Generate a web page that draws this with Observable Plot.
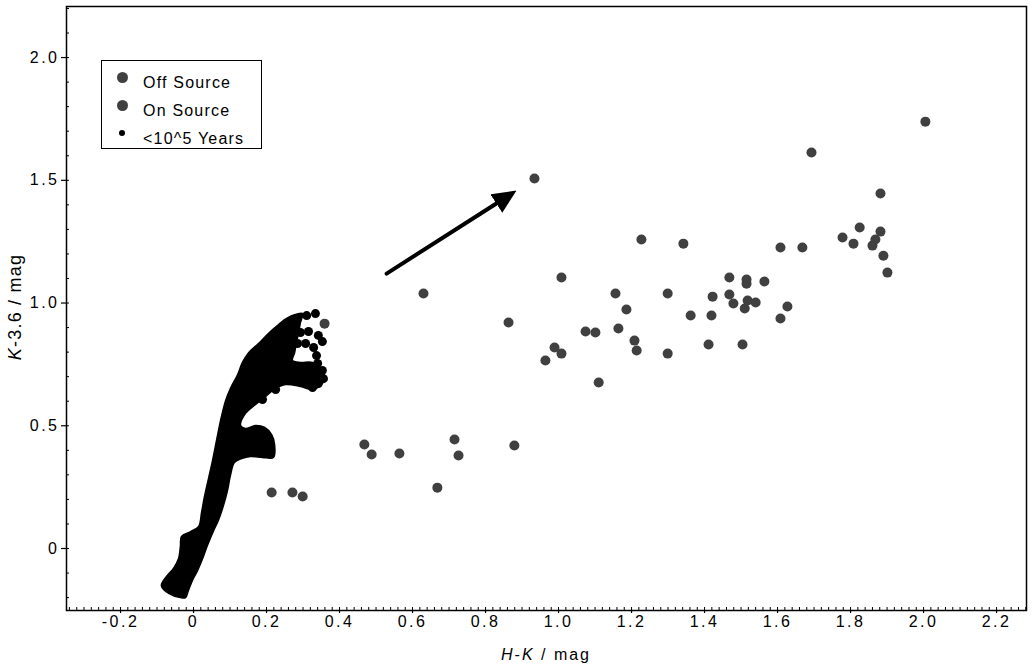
<!DOCTYPE html>
<html><head><meta charset="utf-8">
<script src="https://cdn.jsdelivr.net/npm/d3@7"></script>
<script src="https://cdn.jsdelivr.net/npm/@observablehq/plot@0.6"></script>
<style>
body{margin:0;background:#fff;font-family:"Liberation Sans",Arial,Helvetica,sans-serif;}
#wrap{position:relative;width:1033px;height:669px;overflow:hidden;}
#wrap svg{position:absolute;left:0;top:0;}
.ov{position:absolute;color:#000;white-space:nowrap;}
#legend{position:absolute;left:101px;top:60px;width:161px;height:89px;border:1.5px solid #000;box-sizing:border-box;background:#fff;}
.sw{position:absolute;border-radius:50%;}
.lt{position:absolute;font-size:16px;line-height:18px;letter-spacing:1.2px;white-space:nowrap;}
</style></head>
<body><div id="wrap"></div>
<script>
// ---- data ----
const xDomain = [-0.348, 2.282];
const yDomain = [-0.2525, 2.208];
const xMajor = [-0.2, 0, 0.2, 0.4, 0.6, 0.8, 1.0, 1.2, 1.4, 1.6, 1.8, 2.0, 2.2];
const yMajor = [0, 0.5, 1.0, 1.5, 2.0];

// observed sources (H-K, K-3.6)
const observedHK = [0.934,1.227,1.342,1.008,0.630,1.156,1.299,1.186,1.362,0.863,
  1.074,1.101,1.164,1.208,0.989,1.008,1.214,1.299,0.964,1.110,
  0.715,0.879,0.468,0.488,0.564,0.726,0.668,0.214,0.271,0.299,
  0.359,2.005,1.693,1.882,1.825,1.882,1.778,1.808,1.868,1.860,
  1.890,1.901,1.608,1.668,1.468,1.515,1.515,1.564,1.422,1.468,
  1.479,1.518,1.510,1.540,1.419,1.627,1.608,1.411,1.504];
const observedK36 = [1.507,1.259,1.242,1.104,1.039,1.039,1.039,0.974,0.949,0.921,
  0.884,0.880,0.896,0.847,0.819,0.794,0.807,0.794,0.766,0.676,
  0.444,0.420,0.424,0.383,0.387,0.379,0.248,0.228,0.228,0.212,
  0.916,1.739,1.613,1.446,1.308,1.291,1.267,1.242,1.259,1.234,
  1.193,1.124,1.226,1.226,1.104,1.096,1.079,1.088,1.026,1.035,
  0.998,1.010,0.978,1.002,0.949,0.986,0.937,0.831,0.831];

// dense model (<10^5 years) region: outline of the packed points
const modelOutlineHK = [-0.036,-0.068,-0.088,-0.074,-0.055,-0.041,-0.036,-0.033,-0.008,0.014,
  0.022,0.030,0.041,0.052,0.063,0.074,0.088,0.101,0.121,0.134,
  0.151,0.178,0.205,0.233,0.255,0.279,0.299,0.293,0.288,0.282,
  0.277,0.271,0.293,0.326,0.348,0.359,0.348,0.326,0.293,0.252,
  0.225,0.197,0.170,0.142,0.129,0.142,0.170,0.195,0.214,0.222,
  0.219,0.189,0.156,0.132,0.112,0.101,0.093,0.082,0.068,0.055,
  0.038,0.025,0.011,-0.003,-0.014,-0.022];
const modelOutlineK36 = [-0.200,-0.183,-0.151,-0.114,-0.081,-0.041,0.008,0.049,0.069,0.090,
  0.147,0.212,0.285,0.358,0.440,0.521,0.603,0.652,0.709,0.758,
  0.798,0.835,0.876,0.912,0.937,0.953,0.957,0.921,0.880,0.839,
  0.798,0.766,0.758,0.758,0.733,0.701,0.664,0.648,0.660,0.668,
  0.652,0.619,0.587,0.550,0.501,0.489,0.501,0.493,0.464,0.424,
  0.371,0.371,0.375,0.367,0.350,0.297,0.236,0.175,0.114,0.073,
  0.012,-0.041,-0.090,-0.130,-0.171,-0.200];
// individual model points on the fringes
const modelDotsHK = [0.285,0.310,0.334,0.293,0.315,0.342,0.353,0.285,0.307,0.329,0.337,
  0.189,0.225,0.326,0.342,0.356,0.353,0.340,-0.074,-0.055,-0.030];
const modelDotsK36 = [0.937,0.949,0.957,0.880,0.884,0.868,0.843,0.835,0.835,0.819,0.786,
  0.607,0.648,0.656,0.672,0.692,0.725,0.754,-0.143,-0.163,-0.179];

// reddening vector
const vectorStart = [0.529, 1.120];
const vectorEnd = [0.848, 1.423];

// ---- build ----
const observed = observedHK.map((x, i) => ({hk: x, k36: observedK36[i]}));
const modelOutline = modelOutlineHK.map((x, i) => ({hk: x, k36: modelOutlineK36[i]}));
const modelDots = modelDotsHK.map((x, i) => ({hk: x, k36: modelDotsK36[i]}));
const vector = [{x1: vectorStart[0], y1: vectorStart[1], x2: vectorEnd[0], y2: vectorEnd[1]}];

const W = 1033, H = 669, mL = 66, mR = 7, mT = 6, mB = 59;
const innerW = W - mL - mR, innerH = H - mT - mB;
const xMinor = d3.range(-34, 229, 2).map(d => d / 100);
const yMinor = d3.range(-2, 23).map(d => d / 10);
const fmt = d => d === 0 ? "0" : d.toFixed(1);

function headMarker(color) {
  const ns = "http://www.w3.org/2000/svg";
  const m = document.createElementNS(ns, "marker");
  m.setAttribute("viewBox", "0 -11 24 22");
  m.setAttribute("markerWidth", "24");
  m.setAttribute("markerHeight", "22");
  m.setAttribute("markerUnits", "userSpaceOnUse");
  m.setAttribute("refX", "8");
  m.setAttribute("refY", "0");
  m.setAttribute("orient", "auto");
  const p = document.createElementNS(ns, "path");
  p.setAttribute("d", "M0,-11L24,0L0,11Z");
  p.setAttribute("fill", color);
  p.setAttribute("stroke", "none");
  m.appendChild(p);
  return m;
}

function build(marker) {
  return Plot.plot({
    width: W, height: H,
    marginLeft: mL, marginRight: mR, marginTop: mT, marginBottom: mB,
    style: {fontFamily: "'Liberation Sans', Arial, sans-serif", fontSize: "16px", background: "transparent", letterSpacing: "2.5px", overflow: "visible"},
    x: {domain: xDomain},
    y: {domain: yDomain},
    marks: [
      Plot.line(modelOutline, {x: "hk", y: "k36", fill: "black", stroke: "black", strokeWidth: 1.5, curve: "catmull-rom-closed"}),
      Plot.dot(modelDots, {x: "hk", y: "k36", r: 4.5, fill: "black"}),
      Plot.dot(observed, {x: "hk", y: "k36", r: 5, fill: "#404040"}),
      Plot.link(vector, {x1: "x1", y1: "y1", x2: "x2", y2: "y2", stroke: "black", strokeWidth: 4, strokeLinecap: "round", markerEnd: marker}),
      Plot.tickX(xMinor, {x: d => d, insetTop: innerH - 3, stroke: "black", strokeWidth: 1}),
      Plot.tickY(yMinor, {y: d => d, insetRight: innerW - 3, stroke: "black", strokeWidth: 1}),
      Plot.axisX({ticks: xMajor, tickFormat: fmt, tickSize: 3, tickPadding: 2, label: null, strokeWidth: 1.2}),
      Plot.axisY({ticks: yMajor, tickFormat: fmt, tickSize: 5, tickPadding: 2, label: null, strokeWidth: 1.2}),
      Plot.frame({stroke: "black", strokeWidth: 1.5})
    ]
  });
}
let chart;
try { chart = build(headMarker); } catch (e) { chart = build("arrow"); }
const wrap = document.getElementById("wrap");
wrap.appendChild(chart);

// axis titles
const xt = document.createElement("div");
xt.className = "ov";
xt.style.cssText = "left:446px;top:646px;width:200px;text-align:center;font-size:16px;line-height:18px;letter-spacing:2px;";
xt.innerHTML = "<i>H</i>-<i>K</i> / mag";
wrap.appendChild(xt);
const yt = document.createElement("div");
yt.className = "ov";
yt.style.cssText = "left:-85px;top:297px;width:200px;height:20px;text-align:center;font-size:18px;line-height:20px;letter-spacing:1.2px;transform:rotate(-90deg);";
yt.innerHTML = "<i>K</i>-3.6 / mag";
wrap.appendChild(yt);

// legend
const legendItems = [
  {label: "Off Source", color: "#404040", d: 11, cy: 77},
  {label: "On Source", color: "#404040", d: 11, cy: 105},
  {label: "<10^5 Years", color: "#000", d: 6, cy: 133}
];
const lg = document.createElement("div");
lg.id = "legend";
wrap.appendChild(lg);
legendItems.forEach(it => {
  const s = document.createElement("div");
  s.className = "sw";
  s.style.cssText = `left:${122 - it.d / 2}px;top:${it.cy - it.d / 2}px;width:${it.d}px;height:${it.d}px;background:${it.color};`;
  wrap.appendChild(s);
  const t = document.createElement("div");
  t.className = "lt";
  t.style.left = "143px";
  t.style.top = (it.cy - 3.5) + "px";
  t.textContent = it.label;
  wrap.appendChild(t);
});
</script>
</body></html>
